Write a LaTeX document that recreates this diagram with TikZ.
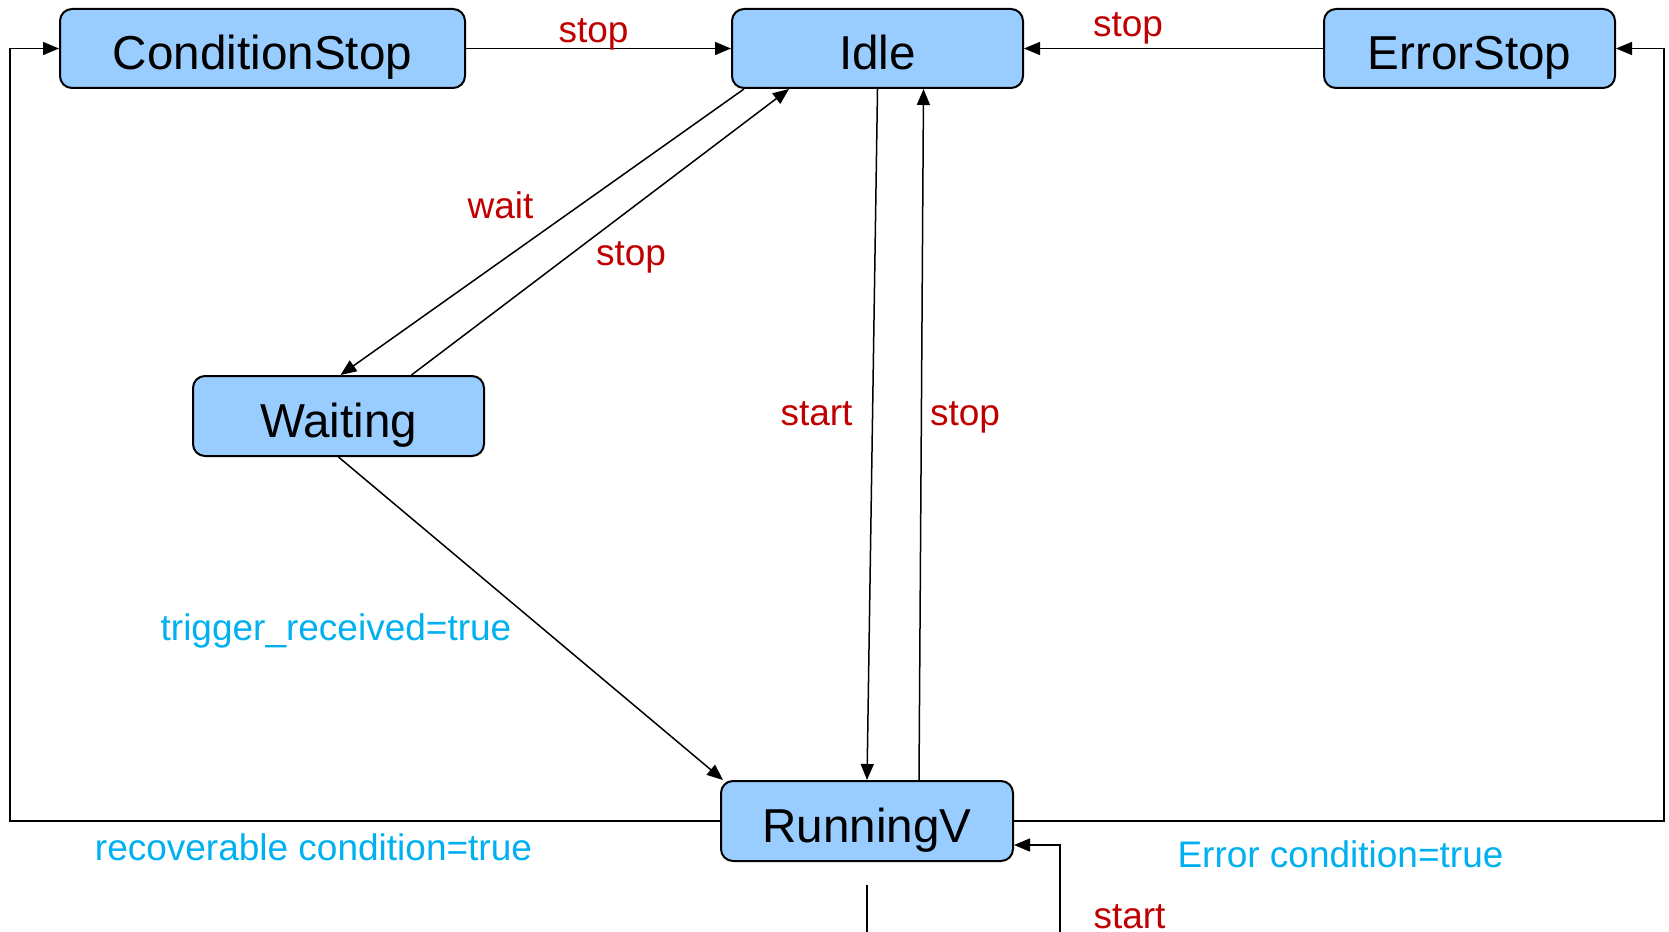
\documentclass[tikz,border=0pt]{standalone}
\usepackage{fontspec}
\setmainfont{Liberation Sans}
\usepackage{xcolor}
\usetikzlibrary{calc,arrows.meta,positioning}
\definecolor{boxc}{HTML}{99CCFF}
\definecolor{evc}{HTML}{C00000}
\definecolor{condc}{HTML}{00B0F0}
\tikzset{
  ar/.style={-{Triangle[length=16pt,width=13pt]},line width=1.5pt},
  ln/.style={line width=1.5pt},
  stbox/.style={draw,line width=2pt,rounded corners=12pt,fill=boxc,minimum height=79pt,inner sep=0pt,text height=42pt,text depth=0pt,font=\fontsize{47.6}{56}\selectfont},
  ev/.style={evc,inner sep=0pt,anchor=base,font=\fontsize{37}{44}\selectfont},
  cond/.style={condc,inner sep=0pt,anchor=base,font=\fontsize{37}{44}\selectfont}
}
\begin{document}
\begin{tikzpicture}[x=1pt,y=-1pt]
\useasboundingbox (0,0) rectangle (1669,931);
% states
\node[stbox,minimum width=405pt] (cstop) at (262.5,48.5) {ConditionStop};
\node[stbox,minimum width=291pt] (idle) at (877.5,48.5) {Idle};
\node[stbox,minimum width=291pt] (estop) at (1469.5,48.5) {ErrorStop};
\node[stbox,minimum width=291pt,minimum height=80pt] (waiting) at (338.5,416) {Waiting};
\node[stbox,minimum width=292pt,minimum height=80pt] (run) at (867,821) {RunningV};
% transitions
\draw[ar] (cstop) -- (idle);
\draw[ar] (estop) -- (idle);
\draw[ar] ([xshift=13pt]idle.south west) -- ([xshift=2pt]waiting.north);
\draw[ar] ([xshift=73pt]waiting.north) -- ([xshift=58pt]idle.south west);
\draw[ar] (idle.south) -- (run.north);
\draw[ar] ([xshift=52pt]run.north) -- ([xshift=46pt]idle.south);
\draw[ar] (waiting.south) -- ([xshift=3pt]run.north west);
\draw[ar] (run.west) -- ++(-710,0) |- (cstop.west);
\draw[ar] (run.east) -- ++(650,0) |- (estop.east);
% lines coming in from below
\coordinate (rin) at (867,885);
\coordinate (rinend) at (867,940);
\draw[ln] (rin) -- (rinend);
\coordinate (sin) at (1060,940);
\draw[ar] (sin) |- ([yshift=-24pt]run.east);
% events and conditions
\node[ev] (e1) at (593.5,43) {stop};
\node[ev] (e2) at (1128,37) {stop};
\node[ev] (e3) at (500.5,218) {wait};
\node[ev] (e4) at (631,265) {stop};
\node[ev] (e5) at (816.5,425) {start};
\node[ev] (e6) at (965,425) {stop};
\node[ev] (e7) at (1129.5,928) {start};
\node[cond] (c1) at (336,640) {trigger\_received=true};
\node[cond] (c2) at (313.5,860) {recoverable condition=true};
\node[cond] (c3) at (1340.5,867) {Error condition=true};
\end{tikzpicture}
\end{document}
